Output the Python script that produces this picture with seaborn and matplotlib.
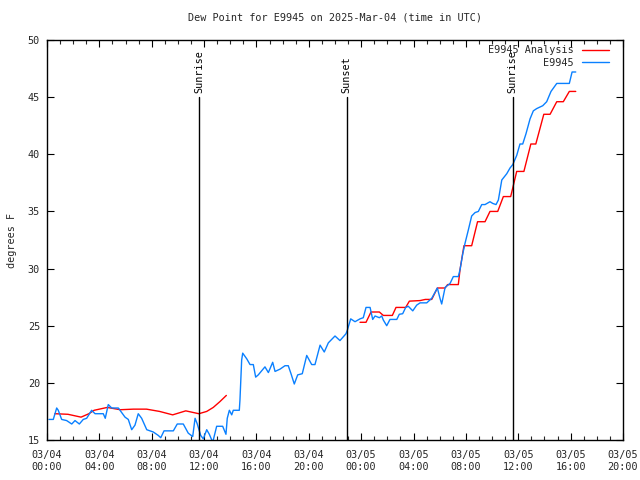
import numpy as np
import pandas as pd
import matplotlib
matplotlib.use("Agg")
import matplotlib.pyplot as plt
import seaborn as sns
from matplotlib.ticker import MultipleLocator

# ---- data (hours since 2025-03-04 00:00 UTC) ----
obs_hours = [0.15, 0.48, 0.74, 0.86, 1.12, 1.50, 1.89, 2.14, 2.47, 2.77, 3.03, 3.41, 3.67,
             4.30, 4.45, 4.68, 4.94, 5.45, 5.96, 6.21, 6.47, 6.72, 6.97, 7.23, 7.62, 8.12,
             8.50, 8.69, 8.94, 9.65, 9.95, 10.41, 10.79, 11.13, 11.31, 11.48, 11.74, 11.94,
             12.20, 12.40, 12.66, 12.96, 13.42, 13.67, 13.77, 13.93, 14.11, 14.23, 14.69,
             14.74, 14.87, 14.95, 15.26, 15.51, 15.76, 15.94, 16.14, 16.65, 16.91, 17.24,
             17.42, 17.80, 18.18, 18.43, 18.64, 18.89, 19.15, 19.50, 19.84, 20.22, 20.47,
             20.86, 21.18, 21.49, 22.00, 22.38, 22.84, 22.94, 23.20, 23.53, 23.91, 24.16,
             24.37, 24.68, 24.88, 25.06, 25.39, 25.57, 25.69, 25.95, 26.20, 26.72, 26.91,
             27.17, 27.40, 27.60, 27.94, 28.24, 28.50, 29.01, 29.39, 29.82, 30.02, 30.15,
             30.41, 30.79, 31.04, 31.42, 31.55, 31.76, 31.93, 32.19, 32.44, 32.70, 32.95,
             33.21, 33.46, 33.84, 34.05, 34.30, 34.48, 34.74, 35.12, 35.37, 35.58, 35.88,
             36.13, 36.34, 36.59, 36.90, 37.15, 37.41, 37.87, 38.17, 38.50, 38.94, 39.90,
             40.11, 40.39]
obs_dewpt = [16.8, 16.8, 17.8, 17.6, 16.8, 16.7, 16.4, 16.7, 16.4, 16.8, 16.9, 17.6, 17.3,
             17.3, 16.9, 18.1, 17.8, 17.8, 17.0, 16.8, 15.9, 16.3, 17.3, 16.9, 15.9, 15.7,
             15.4, 15.2, 15.8, 15.8, 16.4, 16.4, 15.6, 15.3, 16.9, 16.4, 15.4, 15.1,
             15.9, 15.5, 14.8, 16.2, 16.2, 15.5, 16.9, 17.6, 17.2, 17.6, 17.6,
             18.5, 22.0, 22.6, 22.1, 21.6, 21.6, 20.5, 20.7, 21.4, 20.9, 21.8,
             21.0, 21.2, 21.5, 21.5, 20.8, 19.9, 20.7, 20.8, 22.4, 21.6, 21.6,
             23.3, 22.7, 23.5, 24.1, 23.7, 24.3, 24.6, 25.6, 25.35, 25.6, 25.7,
             26.6, 26.6, 25.55, 25.85, 25.7, 25.85, 25.5, 25.0, 25.55, 25.55, 26.0,
             26.05, 26.6, 26.7, 26.3, 26.8, 27.0, 27.0, 27.4, 28.3, 27.4, 26.9,
             28.35, 28.7, 29.3, 29.3, 29.9, 31.3, 32.2, 33.4, 34.6, 34.9, 35.0,
             35.6, 35.6, 35.85, 35.7, 35.6, 36.0, 37.75, 38.3, 38.8, 39.1, 39.9,
             40.9, 40.9, 41.8, 43.1, 43.8, 44.0, 44.25, 44.6, 45.5, 46.2, 46.2,
             47.2, 47.2]

ana1_hours = [0.6, 1.6, 2.6, 3.2, 3.6, 4.6, 5.6, 6.6, 7.6, 8.6, 9.6, 10.6, 11.6,
              12.2, 12.7, 13.2, 13.7]
ana1_dewpt = [17.3, 17.25, 17.0, 17.3, 17.6, 17.85, 17.65, 17.7, 17.7, 17.5, 17.2, 17.55,
              17.3, 17.5, 17.85, 18.35, 18.9]
ana2_hours = [23.91, 24.37, 24.75, 25.39, 25.69, 26.38, 26.66, 27.40, 27.68, 28.50, 28.9,
              29.39, 29.82, 30.41, 30.6, 31.42, 31.55, 31.85, 32.44, 32.89, 33.46, 33.84,
              34.43, 34.86, 35.42, 35.88, 36.43, 36.96, 37.34, 37.95, 38.43, 38.94, 39.44,
              39.90, 40.39]
ana2_dewpt = [25.3, 25.3, 26.2, 26.2, 25.9, 25.9, 26.6, 26.6, 27.15, 27.2, 27.3,
              27.3, 28.3, 28.3, 28.6, 28.6, 29.9, 32.0, 32.0, 34.1, 34.1, 35.0,
              35.0, 36.3, 36.3, 38.5, 38.5, 40.9, 40.9, 43.5, 43.5, 44.6, 44.6,
              45.5, 45.5]

events = ["Sunrise", "Sunset", "Sunrise"]
event_hours = [11.61, 22.88, 35.56]

xtick_hours = [0, 4, 8, 12, 16, 20, 24, 28, 32, 36, 40, 44]
xtick_labels = ["03/04\n00:00", "03/04\n04:00", "03/04\n08:00", "03/04\n12:00",
                "03/04\n16:00", "03/04\n20:00", "03/05\n00:00", "03/05\n04:00",
                "03/05\n08:00", "03/05\n12:00", "03/05\n16:00", "03/05\n20:00"]

RED = "#ff0000"
BLUE = "#0a80ff"

df = pd.concat([
    pd.DataFrame({"hour": ana1_hours, "dewpt": ana1_dewpt, "series": "E9945 Analysis", "seg": "a1"}),
    pd.DataFrame({"hour": ana2_hours, "dewpt": ana2_dewpt, "series": "E9945 Analysis", "seg": "a2"}),
    pd.DataFrame({"hour": obs_hours, "dewpt": obs_dewpt, "series": "E9945", "seg": "o1"}),
], ignore_index=True)

sns.set_style("white")
plt.rcParams["font.family"] = ["DejaVu Sans Mono", "DejaVu Sans"]
FS = 7.3

fig = plt.figure(figsize=(6.4, 4.8), dpi=100)
ax = fig.add_axes([47 / 640, 40 / 480, 576 / 640, 400 / 480])

sns.lineplot(data=df, x="hour", y="dewpt", hue="series", units="seg", estimator=None,
             palette={"E9945 Analysis": RED, "E9945": BLUE},
             hue_order=["E9945 Analysis", "E9945"], lw=1.0, ax=ax, legend=True, sort=False)

ax.set_xlim(0, 44)
ax.set_ylim(15, 50)

for name, h in zip(events, event_hours):
    ax.plot([h, h], [15, 45], color="black", lw=1.0, zorder=3)
    ax.text(h, 45.4, name, rotation=90, ha="center", va="bottom", fontsize=FS, color="black")

ax.set_xticks(xtick_hours)
ax.set_xticklabels(xtick_labels, fontsize=FS, linespacing=1.25)
ax.xaxis.set_minor_locator(MultipleLocator(1))
ax.set_yticks(np.arange(15, 51, 5))
ax.tick_params(axis="y", labelsize=FS, pad=5)
ax.tick_params(axis="x", pad=7)
ax.tick_params(which="major", direction="in", length=5, width=0.8, top=True, right=True,
               bottom=True, left=True, color="black")
ax.tick_params(which="minor", axis="x", direction="in", length=3, width=0.8, top=True, bottom=True)
for s in ax.spines.values():
    s.set_color("black")
    s.set_linewidth(1.0)

ax.set_xlabel("")
ax.set_ylabel("degrees F", fontsize=FS, labelpad=8)
ax.set_title("Dew Point for E9945 on 2025-Mar-04 (time in UTC)", fontsize=FS, pad=14)

handles, labels = ax.get_legend_handles_labels()
leg = ax.legend(handles, labels, loc="upper right", frameon=False, markerfirst=False,
                fontsize=FS, handlelength=2.7, handletextpad=0.8, labelspacing=0.25,
                borderaxespad=0.1, bbox_to_anchor=(0.985, 1.0))

fig.savefig("out.png", dpi=100)
